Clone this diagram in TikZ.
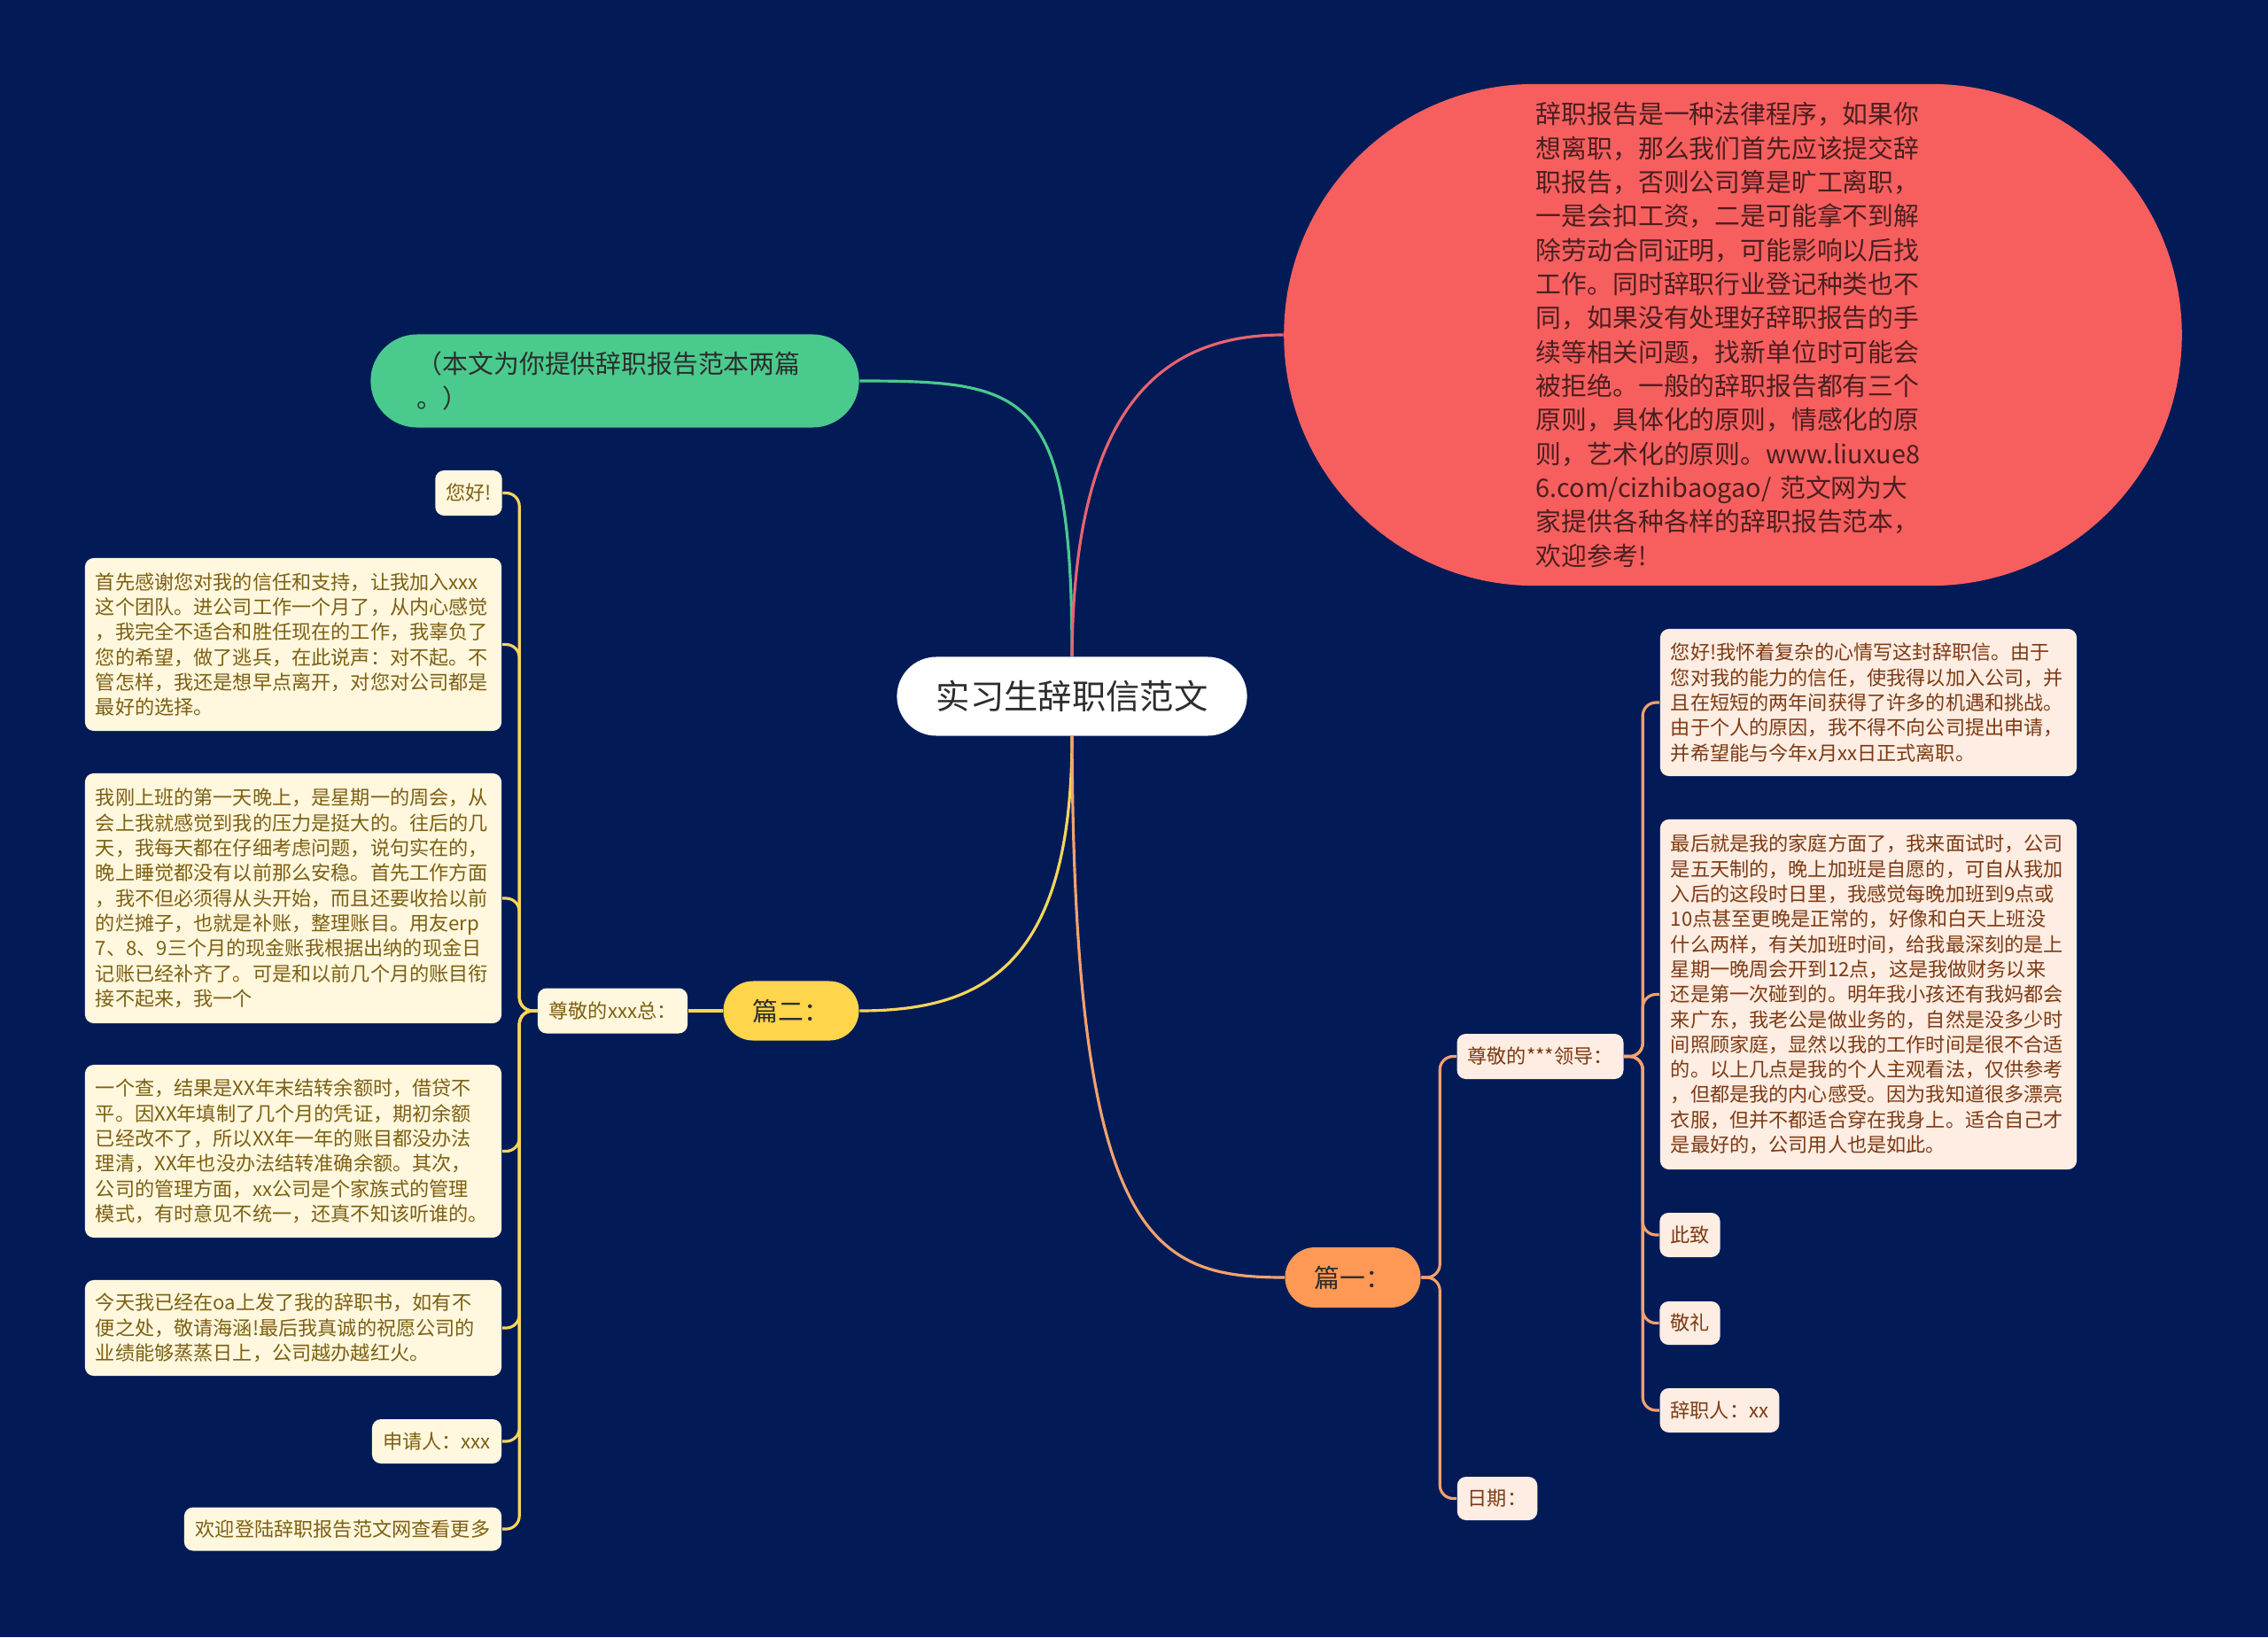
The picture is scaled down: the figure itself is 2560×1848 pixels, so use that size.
\documentclass[tikz,border=0pt]{standalone}
\usepackage{fontspec}
\setmainfont{Noto Sans CJK SC}

\definecolor{cBg}{RGB}{2,27,87}
\definecolor{cGreen}{RGB}{74,203,141}
\definecolor{cRed}{RGB}{247,95,95}
\definecolor{cRedLine}{RGB}{232,100,112}
\definecolor{cYellow}{RGB}{255,213,75}
\definecolor{cYellowLine}{RGB}{248,214,90}
\definecolor{cOrange}{RGB}{255,153,85}
\definecolor{cOrangeLine}{RGB}{244,162,110}
\definecolor{cLFill}{RGB}{255,248,222}
\definecolor{cLText}{RGB}{125,95,18}
\definecolor{cRFill}{RGB}{253,237,226}
\definecolor{cRText}{RGB}{125,58,20}
\definecolor{cDark}{RGB}{45,45,45}
\definecolor{cEText}{RGB}{75,30,30}

\newcommand{\fsmall}{\fontsize{6.3pt}{8.05pt}\selectfont}
\newcommand{\fmid}{\fontsize{8.2pt}{10.9pt}\selectfont}
\newcommand{\fbig}{\fontsize{10.9pt}{13pt}\selectfont}

\tikzset{
  pill/.style={rectangle, rounded corners=#1, inner sep=0pt, align=center},
  lbox/.style={rectangle, rounded corners=0.1cm, fill=cLFill, text=cLText, font=\fsmall, inner xsep=0.12cm, inner ysep=0pt, align=left},
  rbox/.style={rectangle, rounded corners=0.1cm, fill=cRFill, text=cRText, font=\fsmall, inner xsep=0.12cm, inner ysep=0pt, align=left},
  con/.style={draw=#1, line width=0.9pt},
  fork/.style={draw=#1, line width=0.9pt, rounded corners=0.15cm}
}

\begin{document}
\begin{tikzpicture}[x=0.01cm, y=-0.01cm]
\fill[cBg] (0,0) rectangle (2560,1848);

\node[pill=0.445cm, fill=white, text=cDark, font=\fbig, minimum width=3.95cm, minimum height=0.89cm] (T) at (1210,786) {实习生辞职信范文};
\node[pill=0.525cm, fill=cGreen, text=cDark, font=\fmid, text width=4.46cm, align=left, inner xsep=0.525cm, minimum height=1.05cm] (G) at (694,430) {（本文为你提供辞职报告范本两篇\\。）};
\node[pill=2.83cm, fill=cRed, text=cEText, font=\fmid, text width=4.44cm, align=left, minimum width=10.13cm, minimum height=5.66cm] (E) at (1956,378) {辞职报告是一种法律程序，如果你\\想离职，那么我们首先应该提交辞\\职报告，否则公司算是旷工离职，\\一是会扣工资，二是可能拿不到解\\除劳动合同证明，可能影响以后找\\工作。同时辞职行业登记种类也不\\同，如果没有处理好辞职报告的手\\续等相关问题，找新单位时可能会\\被拒绝。一般的辞职报告都有三个\\原则，具体化的原则，情感化的原\\则，艺术化的原则。www.liuxue8\\6.com/cizhibaogao/ 范文网为大\\家提供各种各样的辞职报告范本，\\欢迎参考!};
\node[pill=0.335cm, fill=cYellow, text=cDark, font=\fmid, minimum width=1.53cm, minimum height=0.67cm] (Y) at (893,1141) {篇二：};
\node[pill=0.34cm, fill=cOrange, text=cDark, font=\fmid, minimum width=1.53cm, minimum height=0.68cm] (O) at (1527,1442) {篇一：};

\node[lbox, align=center, minimum width=1.69cm, minimum height=0.51cm] (L0) at (691.5,1141) {尊敬的xxx总：};
\node[lbox, align=center, minimum width=0.74cm, minimum height=0.51cm] (L1) at (529,556.5) {您好!};
\node[lbox, text width=4.46cm, minimum height=1.95cm] (L2) at (331,727.5) {首先感谢您对我的信任和支持，让我加入xxx\\这个团队。进公司工作一个月了，从内心感觉\\，我完全不适合和胜任现在的工作，我辜负了\\您的希望，做了逃兵，在此说声：对不起。不\\管怎样，我还是想早点离开，对您对公司都是\\最好的选择。};
\node[lbox, text width=4.46cm, minimum height=2.82cm] (L3) at (331,1014) {我刚上班的第一天晚上，是星期一的周会，从\\会上我就感觉到我的压力是挺大的。往后的几\\天，我每天都在仔细考虑问题，说句实在的，\\晚上睡觉都没有以前那么安稳。首先工作方面\\，我不但必须得从头开始，而且还要收拾以前\\的烂摊子，也就是补账，整理账目。用友erp\\7、8、9三个月的现金账我根据出纳的现金日\\记账已经补齐了。可是和以前几个月的账目衔\\接不起来，我一个};
\node[lbox, text width=4.46cm, minimum height=1.95cm] (L4) at (331,1299.5) {一个查，结果是XX年末结转余额时，借贷不\\平。因XX年填制了几个月的凭证，期初余额\\已经改不了，所以XX年一年的账目都没办法\\理清，XX年也没办法结转准确余额。其次，\\公司的管理方面，xx公司是个家族式的管理\\模式，有时意见不统一，还真不知该听谁的。};
\node[lbox, text width=4.46cm, minimum height=1.08cm] (L5) at (331,1499) {今天我已经在oa上发了我的辞职书，如有不\\便之处，敬请海涵!最后我真诚的祝愿公司的\\业绩能够蒸蒸日上，公司越办越红火。};
\node[lbox, align=center, minimum width=1.46cm, minimum height=0.5cm] (L6) at (493,1627) {申请人：xxx};
\node[lbox, align=center, minimum width=3.58cm, minimum height=0.49cm] (L7) at (387,1726) {欢迎登陆辞职报告范文网查看更多};

\node[rbox, align=center, minimum width=1.87cm, minimum height=0.51cm] (R0) at (1738.5,1192.5) {尊敬的***领导：};
\node[rbox, align=center, minimum width=0.9cm, minimum height=0.49cm] (D) at (1690,1691.5) {日期：};
\node[rbox, text width=4.46cm, minimum height=1.66cm] (R1) at (2109,793) {您好!我怀着复杂的心情写这封辞职信。由于\\您对我的能力的信任，使我得以加入公司，并\\且在短短的两年间获得了许多的机遇和挑战。\\由于个人的原因，我不得不向公司提出申请，\\并希望能与今年x月xx日正式离职。};
\node[rbox, text width=4.46cm, minimum height=3.95cm] (R2) at (2109,1122.5) {最后就是我的家庭方面了，我来面试时，公司\\是五天制的，晚上加班是自愿的，可自从我加\\入后的这段时日里，我感觉每晚加班到9点或\\10点甚至更晚是正常的，好像和白天上班没\\什么两样，有关加班时间，给我最深刻的是上\\星期一晚周会开到12点，这是我做财务以来\\还是第一次碰到的。明年我小孩还有我妈都会\\来广东，我老公是做业务的，自然是没多少时\\间照顾家庭，显然以我的工作时间是很不合适\\的。以上几点是我的个人主观看法，仅供参考\\，但都是我的内心感受。因为我知道很多漂亮\\衣服，但并不都适合穿在我身上。适合自己才\\是最好的，公司用人也是如此。};
\node[rbox, align=center, minimum width=0.67cm, minimum height=0.5cm] (R3) at (1907.5,1394) {此致};
\node[rbox, align=center, minimum width=0.67cm, minimum height=0.49cm] (R4) at (1907.5,1493.5) {敬礼};
\node[rbox, align=center, minimum width=1.34cm, minimum height=0.5cm] (R5) at (1941,1592) {辞职人：xx};

\draw[con=cGreen] (T.north) .. controls (1210,440) and (1160,430) .. (G.east);
\draw[con=cRedLine] (T.north) .. controls (1212,460) and (1310,378) .. (E.west);
\draw[con=cYellowLine] (T.south) .. controls (1210,1090) and (1110,1141) .. (Y.east);
\draw[con=cOrangeLine] (T.south) .. controls (1212,1400) and (1300,1442) .. (O.west);

\coordinate (LH) at ([xshift=-0.2cm]L0.west);
\draw[con=cYellowLine] (Y.west) -- (L0.east);
\foreach \n in {L1,L2,L3,L4,L5,L6,L7}
  \draw[fork=cYellowLine] (L0.west) -- (LH) |- (\n.east);

\coordinate (RH) at ([xshift=0.21cm]O.east);
\draw[fork=cOrangeLine] (O.east) -- (RH) |- (R0.west);
\draw[fork=cOrangeLine] (O.east) -- (RH) |- (D.west);

\coordinate (RH2) at ([xshift=0.21cm]R0.east);
\foreach \n in {R1,R2,R3,R4,R5}
  \draw[fork=cOrangeLine] (R0.east) -- (RH2) |- (\n.west);
\end{tikzpicture}
\end{document}
